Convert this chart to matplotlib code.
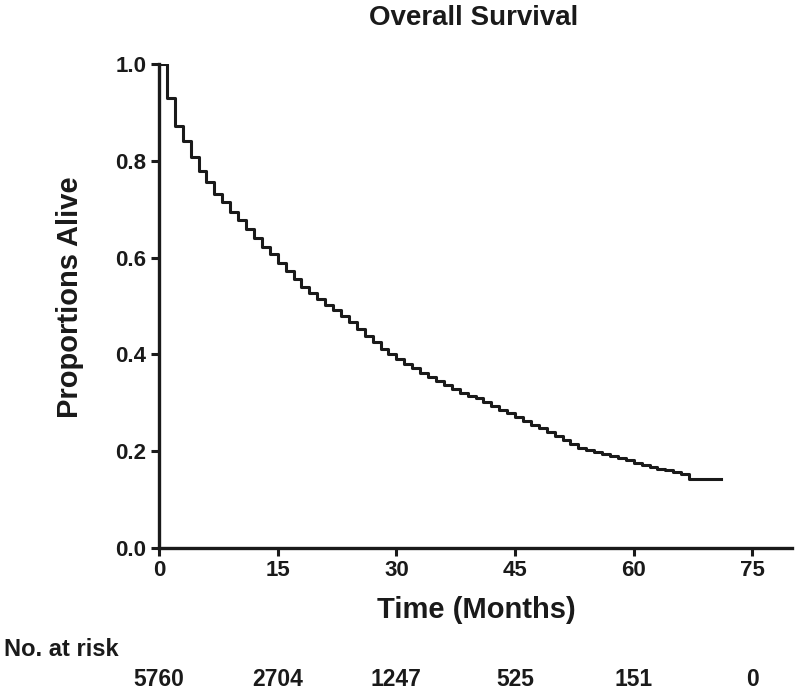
import numpy as np
import matplotlib
matplotlib.use('Agg')
import matplotlib.pyplot as plt
import matplotlib.transforms as mtransforms

plt.rcParams['font.family'] = ['Liberation Sans', 'DejaVu Sans']
plt.rcParams['font.weight'] = 'bold'

# Kaplan-Meier estimate (month, proportion alive)
months = [0, 1, 2, 3, 4, 5, 6, 7, 8, 9, 10, 11, 12, 13, 14, 15, 16, 17, 18, 19,
          20, 21, 22, 23, 24, 25, 26, 27, 28, 29, 30, 31, 32, 33, 34, 35, 36, 37,
          38, 39, 40, 41, 42, 43, 44, 45, 46, 47, 48, 49, 50, 51, 52, 53, 54, 55,
          56, 57, 58, 59, 60, 61, 62, 63, 64, 65, 66, 67, 71]
surv = [1.000, 0.930, 0.872, 0.841, 0.808, 0.778, 0.756, 0.732, 0.715, 0.694,
        0.677, 0.660, 0.641, 0.622, 0.607, 0.589, 0.573, 0.556, 0.539, 0.527,
        0.515, 0.503, 0.491, 0.479, 0.466, 0.452, 0.439, 0.425, 0.412, 0.401,
        0.391, 0.381, 0.371, 0.362, 0.353, 0.345, 0.337, 0.329, 0.321, 0.314,
        0.309, 0.301, 0.293, 0.286, 0.278, 0.270, 0.262, 0.254, 0.247, 0.240,
        0.232, 0.223, 0.215, 0.207, 0.203, 0.199, 0.195, 0.190, 0.186, 0.181,
        0.176, 0.172, 0.168, 0.164, 0.161, 0.157, 0.153, 0.143, 0.143]

risk_times = [0, 15, 30, 45, 60, 75]
risk_counts = ['5760', '2704', '1247', '525', '151', '0']

ink = '#1a1a1a'

fig = plt.figure(figsize=(7.97, 6.95), dpi=100)
ax = fig.add_axes([159/797, 1 - 548/695, (792-159)/797, (548-64)/695])

ax.step(months, surv, where='post', color=ink, lw=2.2)

ax.set_xlim(0, 80)
ax.set_ylim(0, 1.0)
ax.set_xticks([0, 15, 30, 45, 60, 75])
ax.set_yticks([0.0, 0.2, 0.4, 0.6, 0.8, 1.0])
ax.set_yticklabels(['0.0', '0.2', '0.4', '0.6', '0.8', '1.0'])
for s in ['top', 'right']:
    ax.spines[s].set_visible(False)
for s in ['left', 'bottom']:
    ax.spines[s].set_linewidth(2.4)
    ax.spines[s].set_color(ink)
ax.tick_params(direction='out', length=6, width=2.2, color=ink,
               labelsize=16, labelcolor=ink, pad=3)
for lab in ax.get_xticklabels() + ax.get_yticklabels():
    lab.set_fontweight('bold')

fig.text(70/797, 1 - 297/695, 'Proportions Alive', rotation=90, ha='center', va='center',
         fontsize=21, fontweight='bold', color=ink)
fig.text(476/797, 1 - 610/695, 'Time (Months)', ha='center', va='center',
         fontsize=21, fontweight='bold', color=ink)
fig.text(474/797, 1 - 18/695, 'Overall Survival', ha='center', va='center',
         fontsize=20, fontweight='bold', color=ink)
fig.text(4/797, 1 - 650/695, 'No. at risk', ha='left', va='center',
         fontsize=17, fontweight='bold', color=ink)

trans = mtransforms.blended_transform_factory(ax.transData, fig.transFigure)
for t, c in zip(risk_times, risk_counts):
    ax.text(t, 1 - 680/695, c, transform=trans, ha='center', va='center',
            fontsize=16.5, fontweight='bold', color=ink, clip_on=False)

fig.savefig('out.png', dpi=100)
